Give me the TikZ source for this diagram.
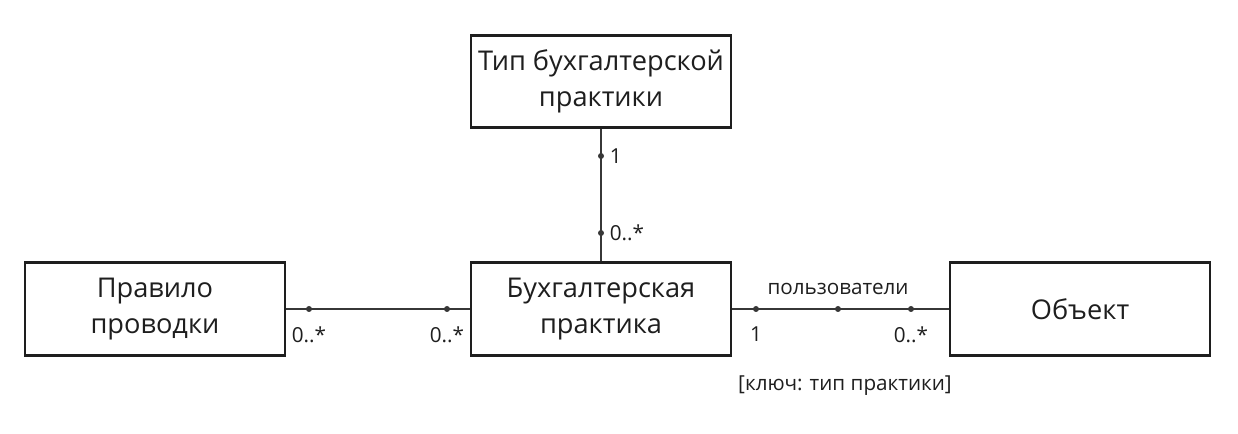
\documentclass[tikz,border=0pt]{standalone}
\usepackage{fontspec}
\setmainfont{Open Sans}
\usetikzlibrary{positioning}
\definecolor{inkcol}{RGB}{30,30,30}
\definecolor{linecol}{RGB}{55,55,55}
\tikzset{
  cls/.style={rectangle,draw=inkcol,line width=2.2pt,fill=white,minimum width=195pt,minimum height=69.5pt,inner sep=0pt,align=center,font=\fontsize{20.4}{27}\selectfont,text=inkcol},
  assoc/.style={-,draw=linecol,line width=2pt},
  dot/.style={circle,fill=linecol,inner sep=0pt,minimum size=4.5pt},
  mult/.style={font=\fontsize{15.5}{18}\selectfont,text=inkcol,inner sep=0pt}
}
\begin{document}
\begin{tikzpicture}[x=0.75pt,y=-0.75pt]
\useasboundingbox (0,0) rectangle (1238,434);
% classes
\node[cls](typ) at (601,81.5){Тип бухгалтерской\\практики};
\node[cls](prak) at (601,309){Бухгалтерская\\практика};
\node[cls](prav) at (155,309){Правило\\проводки};
\node[cls](obj) at (1080,309){Объект};
% associations
\draw[assoc] (typ) -- (prak);
\draw[assoc] (prav) -- (prak);
\draw[assoc] (prak) -- (obj);
% ends and multiplicities
\node[dot](t1) at (601,156){};\node[mult,right=4pt of t1]{1};
\node[dot](t2) at (601,233){};\node[mult,right=4pt of t2]{0..*};
\node[dot](l1) at (309,309){};\node[mult,below=11pt of l1](ml1){0..*};
\node[dot](l2) at (447,309){};\node[mult,below=11pt of l2](ml2){0..*};
\node[dot](r1) at (756,309){};\node[mult,below=11pt of r1](mr1){1};
\node[dot](rm) at (838,309){};\node[mult,above=8pt of rm](role){пользователи};
\node[dot](r2) at (911,309){};\node[mult,below=11pt of r2](mr2){0..*};
\node[mult](key) at (845,386){[ключ: тип практики]};
\end{tikzpicture}
\end{document}
